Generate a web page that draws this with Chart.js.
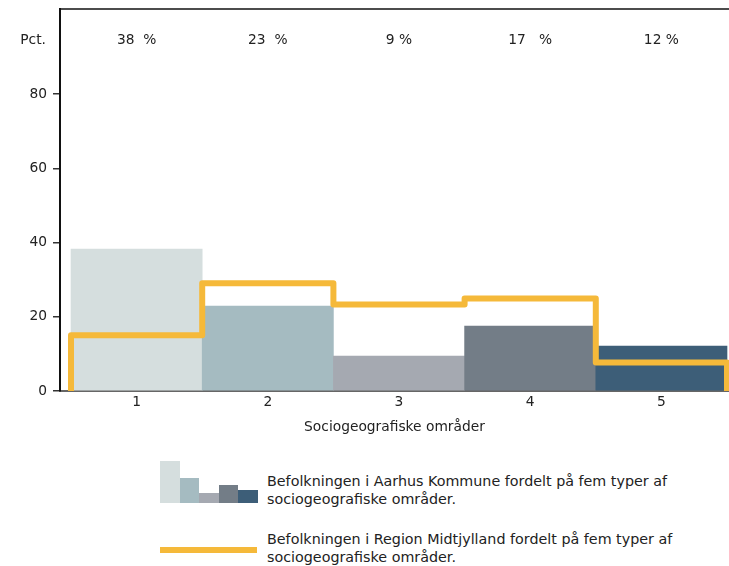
<!DOCTYPE html>
<html>
<head>
<meta charset="utf-8">
<script src="https://cdn.jsdelivr.net/npm/chart.js@4.4.1/dist/chart.umd.min.js"></script>
<style>
  html, body { margin: 0; padding: 0; background: #fff; }
  body { width: 729px; height: 566px; position: relative; font-family: "DejaVu Sans", sans-serif; color: #222; }
  #wrap { position: absolute; left: 0; top: 0; width: 729px; height: 440px; }
  .leg { position: absolute; left: 160px; font-size: 14.3px; line-height: 18px; color: #222; }
  .leg .txt { position: absolute; left: 107px; width: 470px; white-space: nowrap; }
  #leg1 { top: 461px; }
  #leg1 .txt { top: 11px; }
  #leg2 { top: 530px; }
  #leg2 .txt { top: 0px; }
  .mini { position: absolute; bottom: 0; width: 19.5px; }
  .lineIcon { position: absolute; left: 0; top: 17px; width: 97px; height: 6px; background: #F5B93A; }
</style>
</head>
<body>
<div id="wrap"><canvas id="c"></canvas></div>
<div class="leg" id="leg1">
  <div id="miniBars" style="position:absolute;left:0;top:0;width:97px;height:42px;"></div>
  <div class="txt">Befolkningen i Aarhus Kommune fordelt på fem typer af<br>sociogeografiske områder.</div>
</div>
<div class="leg" id="leg2">
  <div class="lineIcon"></div>
  <div class="txt">Befolkningen i Region Midtjylland fordelt på fem typer af<br>sociogeografiske områder.</div>
</div>
<script>
// ---- data ----
const categories = ['1', '2', '3', '4', '5'];
const aarhusValues = [38.2, 22.9, 9.4, 17.5, 12.1];
const aarhusLabels = ['38  %', '23  %', '9 %', '17   %', '12 %'];
const regionValues = [15.0, 29.0, 23.3, 24.9, 7.7];
const yTicks = [0, 20, 40, 60, 80];
const barColors = ['#D5DEDE', '#A5BBC1', '#A5A9B1', '#737D87', '#3D5E78'];
const lineColor = '#F5B93A';
const xTitle = 'Sociogeografiske områder';
const yUnit = 'Pct.';

// legend mini bars (relative heights)
const miniHeights = [42, 25, 10, 18, 13];
const mb = document.getElementById('miniBars');
miniHeights.forEach((h, i) => {
  const d = document.createElement('div');
  d.className = 'mini';
  d.style.left = (i * 19.5) + 'px';
  d.style.height = h + 'px';
  d.style.background = barColors[i];
  mb.appendChild(d);
});

const barData = aarhusValues.map((v, i) => ({ x: i + 1, y: v }));
const stepData = [{ x: 0.5, y: 0 }];
regionValues.forEach((v, i) => stepData.push({ x: i + 0.5, y: v }));
stepData.push({ x: regionValues.length + 0.5, y: regionValues[regionValues.length - 1] });
stepData.push({ x: regionValues.length + 0.5, y: 0 });

const FONT = "'DejaVu Sans', sans-serif";
const FS = 13.8;

const extras = {
  id: 'extras',
  afterDraw(chart) {
    const { ctx, chartArea, scales } = chart;
    ctx.save();
    ctx.strokeStyle = '#111';
    ctx.lineWidth = 1.5;
    ctx.beginPath();
    ctx.moveTo(chartArea.left, chartArea.top);
    ctx.lineTo(chartArea.right, chartArea.top);
    ctx.stroke();
    const yPos = scales.y.getPixelForValue(94.5);
    ctx.fillStyle = '#222';
    ctx.font = FS + 'px ' + FONT;
    ctx.textAlign = 'center';
    ctx.textBaseline = 'middle';
    aarhusLabels.forEach((t, i) => {
      ctx.fillText(t, scales.x.getPixelForValue(i + 1), yPos);
    });
    ctx.textAlign = 'right';
    ctx.fillText(yUnit, chartArea.left - 14, yPos);
    ctx.restore();
  }
};

new Chart(document.getElementById('c'), {
  data: {
    datasets: [
      {
        type: 'line',
        data: stepData,
        stepped: 'before',
        borderColor: lineColor,
        borderWidth: 6,
        borderJoinStyle: 'round',
        pointRadius: 0,
        fill: false,
        clip: false,
        order: 0
      },
      {
        type: 'bar',
        data: barData,
        backgroundColor: barColors,
        barPercentage: 1,
        categoryPercentage: 1,
        borderWidth: 0,
        order: 1
      }
    ]
  },
  options: {
    responsive: true,
    maintainAspectRatio: false,
    animation: false,
    layout: { padding: { top: 9, right: 0, left: 0, bottom: 0 } },
    plugins: { legend: { display: false }, tooltip: { enabled: false } },
    scales: {
      x: {
        type: 'linear',
        offset: false,
        min: 0.5 - 11 / 131.2,
        max: 5.5 + 2 / 131.2,
        afterBuildTicks(scale) { scale.ticks = categories.map((c, i) => ({ value: i + 1 })); },
        ticks: {
          callback: (v) => categories[Math.round(v) - 1],
          color: '#222',
          font: { size: FS, family: FONT },
          padding: 3,
          maxRotation: 0,
          autoSkip: false
        },
        grid: { display: false, drawTicks: false },
        border: { display: true, color: '#666', width: 2 },
        title: { display: true, text: xTitle, color: '#222', font: { size: FS, family: FONT }, padding: { top: 5 } },
        afterFit(scale) { scale.height = 49; scale.paddingLeft = 0; scale.paddingRight = 0; }
      },
      y: {
        min: 0,
        max: 102.9,
        afterBuildTicks(scale) { scale.ticks = yTicks.map(v => ({ value: v })); },
        ticks: { color: '#222', font: { size: FS, family: FONT }, padding: 6 },
        grid: { display: true, drawOnChartArea: false, drawTicks: true, tickLength: 7, color: '#333', lineWidth: 1.5 },
        border: { display: true, color: '#111', width: 2 },
        afterFit(scale) { scale.width = 60; scale.paddingTop = 0; scale.paddingBottom = 0; }
      }
    }
  },
  plugins: [extras]
});
</script>
</body>
</html>
